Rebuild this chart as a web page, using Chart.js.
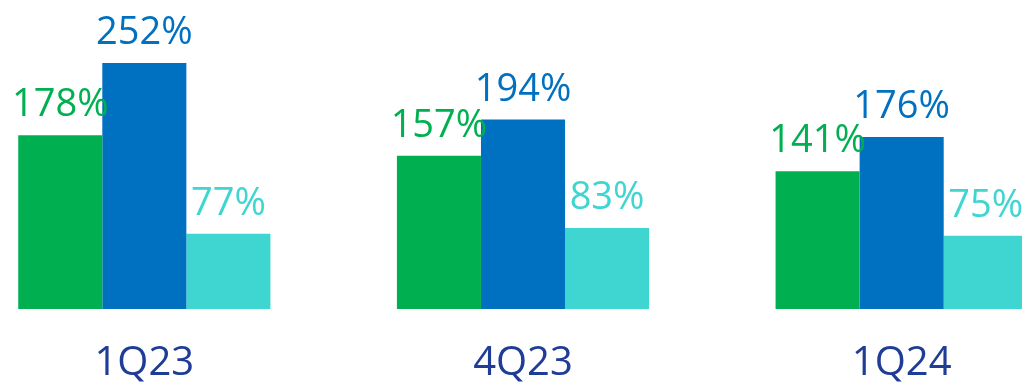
<!DOCTYPE html>
<html>
<head>
<meta charset="utf-8">
<script src="https://cdn.jsdelivr.net/npm/chart.js@4/dist/chart.umd.min.js"></script>
<style>
  html, body { margin: 0; padding: 0; background: #fff; overflow: hidden; width: 1022px; height: 384px; }
  #wrap { position: absolute; left: -45px; top: 0; width: 1136px; height: 384px; }
</style>
</head>
<body>
<div id="wrap"><canvas id="c"></canvas></div>
<script>
const categories = ['1Q23', '4Q23', '1Q24'];
const seriesGreen = [178, 157, 141];
const seriesBlue = [252, 194, 176];
const seriesCyan = [77, 83, 75];
const colors = ['#00b050', '#0070c0', '#3fd5d0'];

const valueLabels = {
  id: 'valueLabels',
  afterDatasetsDraw(chart) {
    const ctx = chart.ctx;
    ctx.save();
    ctx.font = '38px "Open Sans"';
    ctx.textAlign = 'center';
    ctx.textBaseline = 'alphabetic';
    chart.data.datasets.forEach((ds, i) => {
      const meta = chart.getDatasetMeta(i);
      meta.data.forEach((bar, j) => {
        ctx.fillStyle = ds.backgroundColor;
        ctx.fillText(ds.data[j] + '%', bar.x, bar.y - 19);
      });
    });
    ctx.restore();
  }
};

new Chart(document.getElementById('c'), {
  type: 'bar',
  data: {
    labels: categories,
    datasets: [
      { data: seriesGreen, backgroundColor: colors[0] },
      { data: seriesBlue, backgroundColor: colors[1] },
      { data: seriesCyan, backgroundColor: colors[2] }
    ]
  },
  options: {
    responsive: true,
    maintainAspectRatio: false,
    animation: false,
    layout: { padding: { top: 16, bottom: 0, left: 0, right: 0 } },
    categoryPercentage: 0.666,
    barPercentage: 1,
    plugins: { legend: { display: false }, tooltip: { enabled: false } },
    scales: {
      y: { display: false, min: 0, max: 300 },
      x: {
        grid: { display: false, drawTicks: false },
        border: { display: false },
        afterFit(scale) { scale.height = 75; },
        ticks: {
          padding: 35,
          color: '#1f3d96',
          font: { family: '"Open Sans"', size: 40, lineHeight: 1 }
        }
      }
    }
  },
  plugins: [valueLabels]
});
</script>
</body>
</html>
